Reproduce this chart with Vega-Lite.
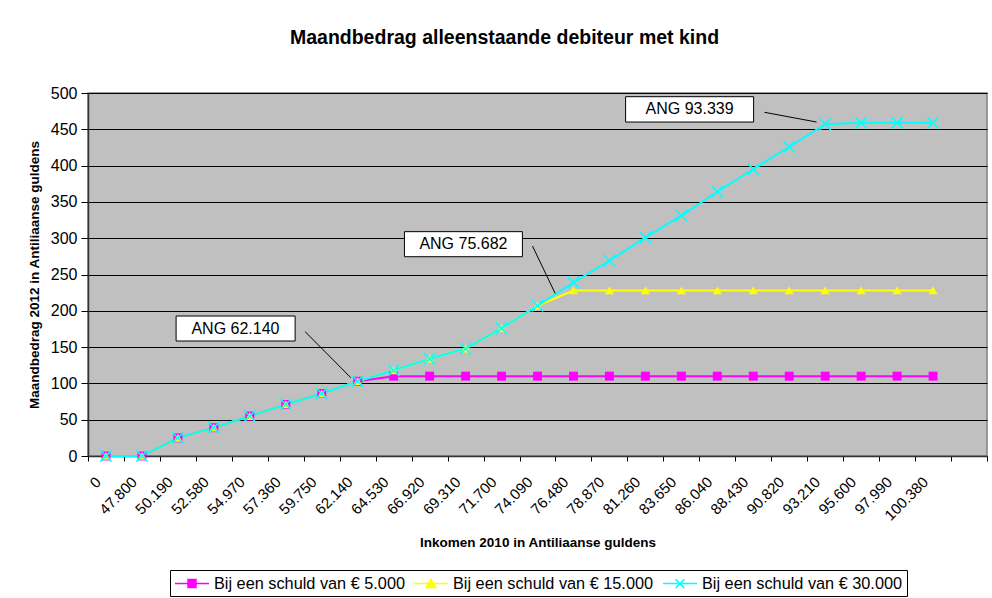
{
  "$schema": "https://vega.github.io/schema/vega-lite/v6.json",
  "width": 899,
  "height": 363,
  "autosize": {"type": "none"},
  "padding": {"left": 88, "top": 93, "right": 5, "bottom": 142},
  "background": "white",
  "title": {
    "text": "Maandbedrag alleenstaande debiteur met kind",
    "fontSize": 19.5,
    "fontWeight": "bold",
    "font": "Liberation Sans",
    "anchor": "middle",
    "dx": -33,
    "offset": 37,
    "color": "black"
  },
  "datasets": {
    "main": [
      {"inkomen": "0", "serie": "Bij een schuld van € 5.000", "bedrag": 0},
      {"inkomen": "47.800", "serie": "Bij een schuld van € 5.000", "bedrag": 0},
      {"inkomen": "50.190", "serie": "Bij een schuld van € 5.000", "bedrag": 25},
      {"inkomen": "52.580", "serie": "Bij een schuld van € 5.000", "bedrag": 39},
      {"inkomen": "54.970", "serie": "Bij een schuld van € 5.000", "bedrag": 55},
      {"inkomen": "57.360", "serie": "Bij een schuld van € 5.000", "bedrag": 71},
      {"inkomen": "59.750", "serie": "Bij een schuld van € 5.000", "bedrag": 86},
      {"inkomen": "62.140", "serie": "Bij een schuld van € 5.000", "bedrag": 103},
      {"inkomen": "64.530", "serie": "Bij een schuld van € 5.000", "bedrag": 110},
      {"inkomen": "66.920", "serie": "Bij een schuld van € 5.000", "bedrag": 110},
      {"inkomen": "69.310", "serie": "Bij een schuld van € 5.000", "bedrag": 110},
      {"inkomen": "71.700", "serie": "Bij een schuld van € 5.000", "bedrag": 110},
      {"inkomen": "74.090", "serie": "Bij een schuld van € 5.000", "bedrag": 110},
      {"inkomen": "76.480", "serie": "Bij een schuld van € 5.000", "bedrag": 110},
      {"inkomen": "78.870", "serie": "Bij een schuld van € 5.000", "bedrag": 110},
      {"inkomen": "81.260", "serie": "Bij een schuld van € 5.000", "bedrag": 110},
      {"inkomen": "83.650", "serie": "Bij een schuld van € 5.000", "bedrag": 110},
      {"inkomen": "86.040", "serie": "Bij een schuld van € 5.000", "bedrag": 110},
      {"inkomen": "88.430", "serie": "Bij een schuld van € 5.000", "bedrag": 110},
      {"inkomen": "90.820", "serie": "Bij een schuld van € 5.000", "bedrag": 110},
      {"inkomen": "93.210", "serie": "Bij een schuld van € 5.000", "bedrag": 110},
      {"inkomen": "95.600", "serie": "Bij een schuld van € 5.000", "bedrag": 110},
      {"inkomen": "97.990", "serie": "Bij een schuld van € 5.000", "bedrag": 110},
      {"inkomen": "100.380", "serie": "Bij een schuld van € 5.000", "bedrag": 110},
      {"inkomen": "0", "serie": "Bij een schuld van € 15.000", "bedrag": 0},
      {"inkomen": "47.800", "serie": "Bij een schuld van € 15.000", "bedrag": 0},
      {"inkomen": "50.190", "serie": "Bij een schuld van € 15.000", "bedrag": 25},
      {"inkomen": "52.580", "serie": "Bij een schuld van € 15.000", "bedrag": 39},
      {"inkomen": "54.970", "serie": "Bij een schuld van € 15.000", "bedrag": 55},
      {"inkomen": "57.360", "serie": "Bij een schuld van € 15.000", "bedrag": 71},
      {"inkomen": "59.750", "serie": "Bij een schuld van € 15.000", "bedrag": 86},
      {"inkomen": "62.140", "serie": "Bij een schuld van € 15.000", "bedrag": 103},
      {"inkomen": "64.530", "serie": "Bij een schuld van € 15.000", "bedrag": 118},
      {"inkomen": "66.920", "serie": "Bij een schuld van € 15.000", "bedrag": 134},
      {"inkomen": "69.310", "serie": "Bij een schuld van € 15.000", "bedrag": 148},
      {"inkomen": "71.700", "serie": "Bij een schuld van € 15.000", "bedrag": 176},
      {"inkomen": "74.090", "serie": "Bij een schuld van € 15.000", "bedrag": 207},
      {"inkomen": "76.480", "serie": "Bij een schuld van € 15.000", "bedrag": 228},
      {"inkomen": "78.870", "serie": "Bij een schuld van € 15.000", "bedrag": 228},
      {"inkomen": "81.260", "serie": "Bij een schuld van € 15.000", "bedrag": 228},
      {"inkomen": "83.650", "serie": "Bij een schuld van € 15.000", "bedrag": 228},
      {"inkomen": "86.040", "serie": "Bij een schuld van € 15.000", "bedrag": 228},
      {"inkomen": "88.430", "serie": "Bij een schuld van € 15.000", "bedrag": 228},
      {"inkomen": "90.820", "serie": "Bij een schuld van € 15.000", "bedrag": 228},
      {"inkomen": "93.210", "serie": "Bij een schuld van € 15.000", "bedrag": 228},
      {"inkomen": "95.600", "serie": "Bij een schuld van € 15.000", "bedrag": 228},
      {"inkomen": "97.990", "serie": "Bij een schuld van € 15.000", "bedrag": 228},
      {"inkomen": "100.380", "serie": "Bij een schuld van € 15.000", "bedrag": 228},
      {"inkomen": "0", "serie": "Bij een schuld van € 30.000", "bedrag": 0},
      {"inkomen": "47.800", "serie": "Bij een schuld van € 30.000", "bedrag": 0},
      {"inkomen": "50.190", "serie": "Bij een schuld van € 30.000", "bedrag": 25},
      {"inkomen": "52.580", "serie": "Bij een schuld van € 30.000", "bedrag": 39},
      {"inkomen": "54.970", "serie": "Bij een schuld van € 30.000", "bedrag": 55},
      {"inkomen": "57.360", "serie": "Bij een schuld van € 30.000", "bedrag": 71},
      {"inkomen": "59.750", "serie": "Bij een schuld van € 30.000", "bedrag": 86},
      {"inkomen": "62.140", "serie": "Bij een schuld van € 30.000", "bedrag": 103},
      {"inkomen": "64.530", "serie": "Bij een schuld van € 30.000", "bedrag": 118},
      {"inkomen": "66.920", "serie": "Bij een schuld van € 30.000", "bedrag": 134},
      {"inkomen": "69.310", "serie": "Bij een schuld van € 30.000", "bedrag": 148},
      {"inkomen": "71.700", "serie": "Bij een schuld van € 30.000", "bedrag": 176},
      {"inkomen": "74.090", "serie": "Bij een schuld van € 30.000", "bedrag": 207},
      {"inkomen": "76.480", "serie": "Bij een schuld van € 30.000", "bedrag": 239},
      {"inkomen": "78.870", "serie": "Bij een schuld van € 30.000", "bedrag": 269},
      {"inkomen": "81.260", "serie": "Bij een schuld van € 30.000", "bedrag": 301},
      {"inkomen": "83.650", "serie": "Bij een schuld van € 30.000", "bedrag": 331},
      {"inkomen": "86.040", "serie": "Bij een schuld van € 30.000", "bedrag": 364},
      {"inkomen": "88.430", "serie": "Bij een schuld van € 30.000", "bedrag": 395},
      {"inkomen": "90.820", "serie": "Bij een schuld van € 30.000", "bedrag": 426},
      {"inkomen": "93.210", "serie": "Bij een schuld van € 30.000", "bedrag": 457},
      {"inkomen": "95.600", "serie": "Bij een schuld van € 30.000", "bedrag": 459},
      {"inkomen": "97.990", "serie": "Bij een schuld van € 30.000", "bedrag": 459},
      {"inkomen": "100.380", "serie": "Bij een schuld van € 30.000", "bedrag": 459}
    ],
    "ann": [
      {"label": "ANG 62.140", "bx1": 2.45, "bx2": 5.76, "by1": 158.4, "by2": 192.8, "tx": 4.1, "ty": 175.6, "lx1": 6.04, "ly1": 171.2, "lx2": 7.31, "ly2": 107.8},
      {"label": "ANG 75.682", "bx1": 8.8, "bx2": 12.08, "by1": 274.5, "by2": 309, "tx": 10.44, "ty": 291.8, "lx1": 12.36, "ly1": 289.3, "lx2": 12.99, "ly2": 224.1},
      {"label": "ANG 93.339", "bx1": 14.95, "bx2": 18.51, "by1": 460, "by2": 494.9, "tx": 16.73, "ty": 477.4, "lx1": 18.81, "ly1": 473.4, "lx2": 20.26, "ly2": 460}
    ]
  },
  "layer": [
    {
      "data": {"name": "main"},
      "encoding": {
        "x": {
          "field": "inkomen",
          "type": "nominal",
          "sort": null,
          "scale": {
            "type": "band",
            "domain": ["0", "47.800", "50.190", "52.580", "54.970", "57.360", "59.750", "62.140", "64.530", "66.920", "69.310", "71.700", "74.090", "76.480", "78.870", "81.260", "83.650", "86.040", "88.430", "90.820", "93.210", "95.600", "97.990", "100.380", " "],
            "paddingInner": 0,
            "paddingOuter": 0
          },
          "axis": {
            "title": "Inkomen 2010 in Antiliaanse guldens",
            "labelAngle": -45,
            "labelFontSize": 15,
            "labelAlign": "right",
            "labelBaseline": "middle",
            "labelPadding": 18,
            "labelOffset": -8,
            "labelOverlap": false,
            "labelColor": "black",
            "tickBand": "extent",
            "tickSize": 5,
            "tickColor": "black",
            "domainColor": "#333333",
            "domainWidth": 1.5,
            "grid": false,
            "titleFontSize": 13.5,
            "titleFontWeight": "bold",
            "titleColor": "black",
            "titlePadding": 13
          }
        },
        "y": {
          "field": "bedrag",
          "type": "quantitative",
          "scale": {"domain": [0, 500], "nice": false},
          "axis": {
            "title": "Maandbedrag 2012 in Antiliaanse guldens",
            "values": [0, 50, 100, 150, 200, 250, 300, 350, 400, 450, 500],
            "grid": true,
            "gridColor": "black",
            "gridWidth": 1,
            "labelFontSize": 16,
            "labelColor": "black",
            "labelPadding": 4,
            "tickSize": 7,
            "tickColor": "black",
            "domainColor": "#333333",
            "domainWidth": 1.5,
            "titleFontSize": 13.5,
            "titleFontWeight": "bold",
            "titleColor": "black",
            "titlePadding": 9
          }
        }
      },
      "layer": [
        {
          "mark": {"type": "line", "strokeWidth": 2},
          "encoding": {
            "color": {
              "field": "serie",
              "type": "nominal",
              "scale": {
                "domain": ["Bij een schuld van € 5.000", "Bij een schuld van € 15.000", "Bij een schuld van € 30.000"],
                "range": ["#FF00FF", "#FFFF00", "#00FFFF"]
              },
              "legend": {
                "orient": "none",
                "legendX": 82,
                "legendY": 477,
                "direction": "horizontal",
                "columns": 3,
                "title": null,
                "padding": 4,
                "strokeColor": "black",
                "fillColor": "white",
                "symbolSize": 289,
                "symbolType": "M-1,0H3M0.53,-0.47H1.47V0.47H0.53Z",
                "labelFontSize": 16.3,
                "labelOffset": 21,
                "columnPadding": 6,
                "labelLimit": 400,
                "labelColor": "black",
                "encode": {
                  "symbols": {
                    "update": {
                      "shape": {"signal": "datum.value === 'Bij een schuld van € 30.000' ? 'M-1,0H3M0.5,-0.5L1.5,0.5M0.5,0.5L1.5,-0.5' : datum.value === 'Bij een schuld van € 15.000' ? 'M-1,0H3M1,-0.5L1.55,0.45H0.45Z' : 'M-1,0H3M0.53,-0.47H1.47V0.47H0.53Z'"},
                      "fill": {"scale": "color", "field": "value"},
                      "stroke": {"scale": "color", "field": "value"},
                      "strokeWidth": {"value": 1.5},
                      "opacity": {"value": 1}
                    }
                  }
                }
              }
            }
          }
        },
        {
          "transform": [{"filter": {"field": "serie", "equal": "Bij een schuld van € 5.000"}}],
          "mark": {"type": "point", "shape": "square", "filled": true, "size": 80, "color": "#FF00FF", "opacity": 1}
        },
        {
          "transform": [{"filter": {"field": "serie", "equal": "Bij een schuld van € 15.000"}}],
          "mark": {"type": "point", "shape": "triangle-up", "filled": true, "size": 80, "color": "#FFFF00", "opacity": 1}
        },
        {
          "transform": [{"filter": {"field": "serie", "equal": "Bij een schuld van € 30.000"}}],
          "mark": {"type": "point", "shape": "M-1.3,-1.3L1.3,1.3M-1.3,1.3L1.3,-1.3", "filled": false, "size": 75, "strokeWidth": 1.5, "color": "#00FFFF", "opacity": 1}
        }
      ]
    },
    {
      "data": {"name": "ann"},
      "layer": [
        {
          "mark": {"type": "rule", "color": "black", "strokeWidth": 1},
          "encoding": {
            "x": {"field": "lx1", "type": "quantitative", "scale": {"domain": [0, 25], "nice": false, "zero": false}, "axis": null},
            "x2": {"field": "lx2"},
            "y": {"field": "ly1", "type": "quantitative", "scale": {"domain": [0, 500], "nice": false}, "axis": null},
            "y2": {"field": "ly2"}
          }
        },
        {
          "mark": {"type": "rect", "fill": "white", "stroke": "black", "strokeWidth": 1},
          "encoding": {
            "x": {"field": "bx1", "type": "quantitative"},
            "x2": {"field": "bx2"},
            "y": {"field": "by1", "type": "quantitative"},
            "y2": {"field": "by2"}
          }
        },
        {
          "mark": {"type": "text", "fontSize": 16, "color": "black", "align": "center", "baseline": "middle"},
          "encoding": {
            "x": {"field": "tx", "type": "quantitative"},
            "y": {"field": "ty", "type": "quantitative"},
            "text": {"field": "label"}
          }
        }
      ]
    }
  ],
  "resolve": {"scale": {"x": "independent", "y": "independent"}},
  "config": {
    "font": "Liberation Sans",
    "view": {"fill": "#C0C0C0", "stroke": "#808080", "strokeWidth": 1.5}
  }
}
